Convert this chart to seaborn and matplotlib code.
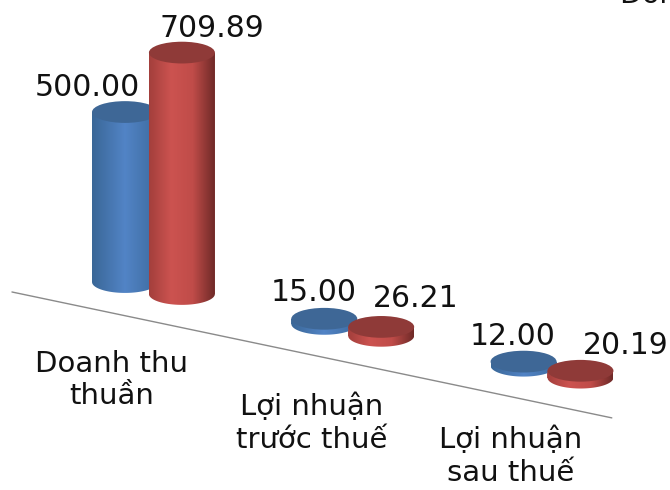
import numpy as np
import pandas as pd
import matplotlib
matplotlib.use("Agg")
import matplotlib.pyplot as plt
from matplotlib.colors import LinearSegmentedColormap
from matplotlib.patches import Ellipse, Polygon
import seaborn as sns

categories = ["Doanh thu\nthuần", "Lợi nhuận\ntrước thuế", "Lợi nhuận\nsau thuế"]
series_a = [500.00, 15.00, 12.00]
series_b = [709.89, 26.21, 20.19]
series_names = ["A", "B"]
corner_text = "Đơn vị"

# label offsets from the top of each cylinder, in pixels
label_off_a = [(-38, 25), (-11, 26), (-11, 25)]
label_off_b = [(30, 24), (35, 28), (45, 25)]
cat_label_drop = [92, 93, 85]

slope = -123.0      # the floor runs downhill, value units per category
cyl_w = 0.331       # category units
cyl_h = 64.0        # value units

blue = LinearSegmentedColormap.from_list("b", ["#3a6797", "#5284c6", "#3d6b9f"])
red = LinearSegmentedColormap.from_list("r", ["#a33f3c", "#cc5350", "#c04c49", "#6f2a28"])
top_colors = ["#3e6796", "#8f3a38"]
bar_colors = ["#4a7ab5", "#c04c49"]

sns.set_theme(style="white")
plt.rcParams["font.family"] = ["DejaVu Sans"]

df = pd.DataFrame({
    "cat": categories * 2,
    "value": series_a + series_b,
    "series": [series_names[0]] * 3 + [series_names[1]] * 3,
})

fig = plt.figure(figsize=(6.7, 4.9), dpi=100)
ax = fig.add_axes([0, 0, 1, 1])
sns.barplot(data=df, x="cat", y="value", hue="series", order=categories,
            hue_order=series_names, palette=bar_colors, width=0.571,
            dodge=True, legend=False, ax=ax)

xlim = (-0.770, 2.592)
ylim = (-594, 847)


def px(dx, dy):
    return dx * 0.72, dy * 0.72


# collect bars so we can draw them cat by cat, left to right
bars = []
for s, container in enumerate(ax.containers):
    for c, bar in enumerate(container):
        bars.append((c, s, bar))
bars.sort(key=lambda t: (t[0], t[1]))

z = 3
grad = np.linspace(0, 1, 128).reshape(1, -1)
for c, s, bar in bars:
    xc = bar.get_x() + bar.get_width() / 2
    val = bar.get_height()
    base = slope * xc
    bar.set_y(base)
    bar.set_x(xc - cyl_w / 2)
    bar.set_width(cyl_w)
    bar.set_zorder(1)
    bar.set_linewidth(0)

    t = np.linspace(np.pi, 2 * np.pi, 60)
    xs = xc + cyl_w / 2 * np.cos(t)
    ys = base + cyl_h / 2 * np.sin(t)
    verts = np.column_stack([np.r_[xs, xc + cyl_w / 2, xc - cyl_w / 2],
                             np.r_[ys, base + val, base + val]])
    body = Polygon(verts, closed=True, facecolor="none", edgecolor="none",
                   transform=ax.transData)
    ax.add_patch(body)
    im = ax.imshow(grad, cmap=blue if s == 0 else red, aspect="auto",
                   extent=(xc - cyl_w / 2, xc + cyl_w / 2, base - cyl_h, base + val + cyl_h),
                   zorder=z)
    im.set_clip_path(body)
    ax.add_patch(Ellipse((xc, base + val), cyl_w, cyl_h, facecolor=top_colors[s],
                         edgecolor="none", zorder=z + 1))
    z += 2

    value = (series_a if s == 0 else series_b)[c]
    off = (label_off_a if s == 0 else label_off_b)[c]
    ax.annotate(f"{value:.2f}", (xc, base + val), xytext=px(*off),
                textcoords="offset points", ha="center", va="center",
                fontsize=21.5, color="#111111", zorder=50)

# sloping floor line
line_x = np.array([-0.71, 2.30])
ax.plot(line_x, slope * line_x - 99, color="#8a8a8a", lw=1.0, zorder=2)

for c, name in enumerate(categories):
    ax.annotate(name, (c, slope * c), xytext=px(-41.5, -cat_label_drop[c]),
                textcoords="offset points", ha="center", va="center",
                fontsize=21, color="#111111", linespacing=1.22, zorder=50)

fig.text(620 / 670, 1 - 3 / 490, corner_text, fontsize=20.5, color="#111111",
         ha="left", va="baseline")

ax.set_xlim(*xlim)
ax.set_ylim(*ylim)
ax.set_axis_off()
fig.savefig("out.png", dpi=100)
